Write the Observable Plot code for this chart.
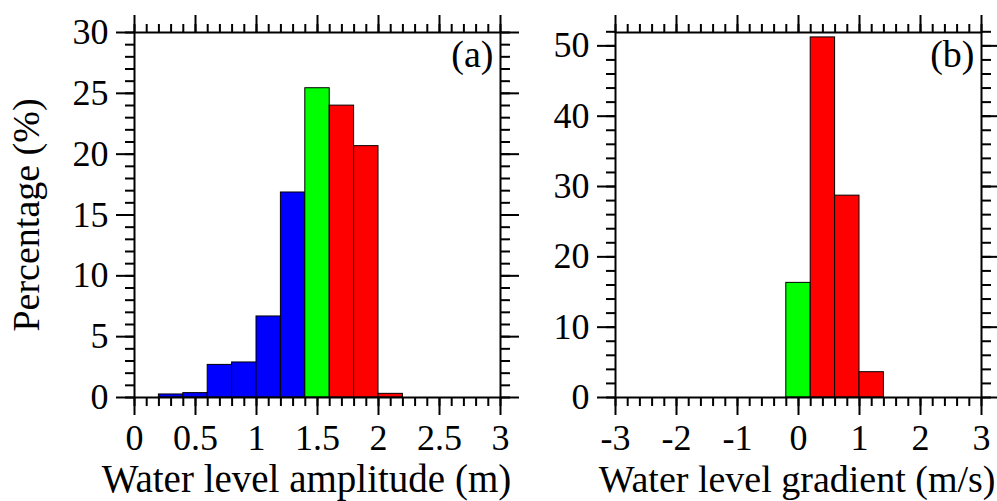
<!DOCTYPE html>
<html><head><meta charset="utf-8">
<script src="https://cdn.jsdelivr.net/npm/d3@7"></script>
<script src="https://cdn.jsdelivr.net/npm/@observablehq/plot@0.6"></script>
<style>
html,body{margin:0;padding:0;background:#fff;}
#wrap{position:relative;width:997px;height:501px;overflow:hidden;background:#fff;}
#pa{position:absolute;left:0;top:0;}
#pb{position:absolute;left:540px;top:0;}
</style></head><body><div id="wrap"><div id="pa"></div><div id="pb"></div></div>
<script>
// Panel (a): water level amplitude histogram
const ampLow  = [0.2, 0.4, 0.6, 0.8, 1.0, 1.2, 1.4, 1.6, 1.8, 2.0];
const ampHigh = [0.4, 0.6, 0.8, 1.0, 1.2, 1.4, 1.6, 1.8, 2.0, 2.2];
const ampPct  = [0.25, 0.36, 2.68, 2.88, 6.66, 16.85, 25.42, 23.99, 20.66, 0.3];
const ampClass = ["low","low","low","low","low","low","mid","high","high","high"];
// Panel (b): water level gradient histogram
const gradLow  = [-0.2, 0.2, 0.6, 1.0];
const gradHigh = [0.2, 0.6, 1.0, 1.4];
const gradPct  = [16.3, 51.2, 28.7, 3.6];
const gradClass = ["mid","high","high","high"];
// classes / colours
const classNames = ["low","mid","high"];
const classColors = ["#0000ff","#00ff00","#ff0000"];
// ticks
const ampXTicks = [0, 0.5, 1, 1.5, 2, 2.5, 3];
const ampYTicks = [0, 5, 10, 15, 20, 25, 30];
const gradXTicks = [-3, -2, -1, 0, 1, 2, 3];
const gradYTicks = [0, 10, 20, 30, 40, 50];
// texts
const yLabel = "Percentage (%)";
const ampXLabel = "Water level amplitude (m)";
const gradXLabel = "Water level gradient (m/s)";
const panelTags = ["(a)", "(b)"];

function panel(cfg) {
  const rows = cfg.low.map((l, i) => ({x1: l, x2: cfg.high[i], y: cfg.pct[i], c: cfg.cls[i]}));
  const common = {strokeWidth: 2, label: null};
  const marks = [
    Plot.rectY(rows, {x1: "x1", x2: "x2", y1: 0, y2: "y", fill: "c", stroke: "black", strokeWidth: 1}),
    Plot.frame({strokeWidth: 2}),
    // major ticks with labels
    Plot.axisX(cfg.xTicks, {...common, anchor: "bottom", tickSize: 18, tickPadding: 9, tickFormat: d => String(d), fontSize: 36}),
    Plot.axisY(cfg.yTicks, {...common, anchor: "left", tickSize: 18, tickPadding: 8, tickFormat: d => String(d), fontSize: 36}),
    // major ticks without labels
    Plot.axisX(cfg.xTicks, {...common, anchor: "top", tickSize: 18, fill: "none"}),
    Plot.axisY(cfg.yTicks, {...common, anchor: "right", tickSize: 18, fill: "none"}),
    // minor ticks
    Plot.axisX(cfg.xMinor, {...common, anchor: "bottom", tickSize: 9, fill: "none"}),
    Plot.axisX(cfg.xMinor, {...common, anchor: "top", tickSize: 9, fill: "none"}),
    Plot.axisY(cfg.yMinor, {...common, anchor: "left", tickSize: 9, fill: "none"}),
    Plot.axisY(cfg.yMinor, {...common, anchor: "right", tickSize: 9, fill: "none"}),
    Plot.text([cfg.tag], {text: d => d, frameAnchor: "top-right", textAnchor: "end", lineAnchor: "top", dx: -7, dy: 8, fontSize: 38}),
    Plot.text([cfg.xLabel], {text: d => d, frameAnchor: cfg.xLabelAnchor, textAnchor: cfg.xLabelTextAnchor, lineAnchor: "middle", dy: 82, dx: cfg.xLabelDx, fontSize: cfg.xLabelSize})
  ];
  if (cfg.yLabel) {
    marks.push(Plot.text([cfg.yLabel], {text: d => d, frameAnchor: "left", textAnchor: "middle", rotate: -90, lineAnchor: "middle", dx: -108, fontSize: 38}));
  }
  return Plot.plot({
    width: cfg.width,
    height: 501,
    marginLeft: cfg.ml,
    marginRight: cfg.mr,
    marginTop: 32,
    marginBottom: 104,
    style: {fontFamily: "'Liberation Serif', 'Times New Roman', serif", fontSize: "36px", color: "black", background: "white", overflow: "visible"},
    x: {domain: cfg.xDomain},
    y: {domain: cfg.yDomain},
    color: {domain: classNames, range: classColors},
    marks
  });
}

document.getElementById("pa").append(panel({
  low: ampLow, high: ampHigh, pct: ampPct, cls: ampClass,
  xTicks: ampXTicks, yTicks: ampYTicks,
  xMinor: d3.range(0, 3.0001, 0.1).map(v => +v.toFixed(1)),
  yMinor: d3.range(0, 31, 1),
  xDomain: [0, 3], yDomain: [0, 30],
  width: 540, ml: 134, mr: 40,
  tag: panelTags[0], xLabel: ampXLabel, xLabelAnchor: "bottom", xLabelTextAnchor: "middle", xLabelDx: -11, xLabelSize: 39, yLabel: yLabel
}));

document.getElementById("pb").append(panel({
  low: gradLow, high: gradHigh, pct: gradPct, cls: gradClass,
  xTicks: gradXTicks, yTicks: gradYTicks,
  xMinor: d3.range(-3, 3.0001, 0.2).map(v => +v.toFixed(1)),
  yMinor: d3.range(0, 53, 2),
  xDomain: [-3, 3], yDomain: [0, 51.9],
  width: 457, ml: 75, mr: 16,
  tag: panelTags[1], xLabel: gradXLabel, xLabelAnchor: "bottom-right", xLabelTextAnchor: "end", xLabelDx: 14, xLabelSize: 38, yLabel: null
}));
</script></body></html>
